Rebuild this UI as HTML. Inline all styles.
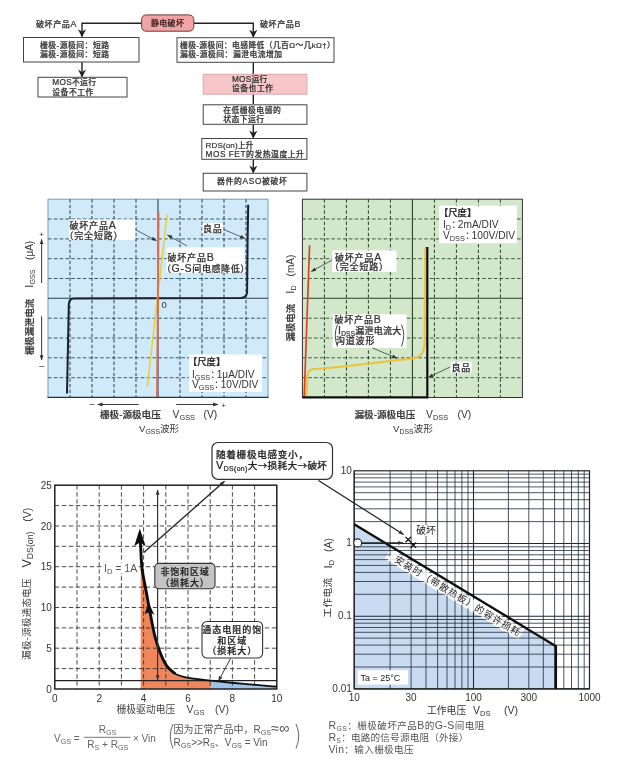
<!DOCTYPE html>
<html lang="zh"><head><meta charset="utf-8"><title>MOSFET 静电破坏</title>
<style>html,body{margin:0;padding:0;background:#fff}svg{display:block}</style></head>
<body>
<svg width="617" height="763" viewBox="0 0 617 763" font-family='"Liberation Sans","Noto Sans CJK SC",sans-serif'>
<defs>
<marker id="ah" viewBox="0 0 10 10" refX="9" refY="5" markerUnits="userSpaceOnUse" markerWidth="8.2" markerHeight="8.2" orient="auto-start-reverse"><path d="M0,0 L10,5 L0,10 L3,5 z" fill="#222"/></marker>
<marker id="as" viewBox="0 0 10 10" refX="9" refY="5" markerUnits="userSpaceOnUse" markerWidth="5.4" markerHeight="5.4" orient="auto-start-reverse"><path d="M0,1.5 L10,5 L0,8.5 z" fill="#333"/></marker>
<filter id="bl" x="0" y="0" width="100%" height="100%"><feGaussianBlur stdDeviation="0.5"/></filter>
</defs>
<rect width="617" height="763" fill="#fff"/>
<g filter="url(#bl)">
<g stroke="#222" stroke-width="1.4" fill="none">
<path d="M142,23.2 H82 V36.5" marker-end="url(#ah)"/>
<path d="M194,23.2 H253.3 V37" marker-end="url(#ah)"/>
<path d="M82,62 V76.8" marker-end="url(#ah)"/>
<path d="M253.3,62 V74"/>
<path d="M253.3,94 V104"/>
<path d="M253.3,124.5 V137.8" marker-end="url(#ah)"/>
<path d="M253.3,159.5 V172.8" marker-end="url(#ah)"/>
</g>
<rect x="141.6" y="14.9" width="52.2" height="16.3" fill="#f1a4a4" stroke="#6a3a3a" stroke-width="1" rx="4.5"/>
<text x="167.6" y="26.2" font-size="8" text-anchor="middle" fill="#3a2222" font-weight="500" stroke="#3a2222" stroke-width="0.22" letter-spacing="0.3" >静电破坏</text>
<text x="36" y="27" font-size="8.1" text-anchor="start" fill="#333" font-weight="500" stroke="#333" stroke-width="0.22" letter-spacing="0.5" >破坏产品<tspan font-size="1.1em">A</tspan></text>
<text x="260" y="27" font-size="8.1" text-anchor="start" fill="#333" font-weight="500" stroke="#333" stroke-width="0.22" letter-spacing="0.5" >破坏产品<tspan font-size="1.1em">B</tspan></text>
<rect x="23.5" y="37.5" width="115.5" height="24.5" fill="#fff" stroke="#444" stroke-width="1" rx="0"/>
<text x="40" y="48" font-size="7.8" text-anchor="start" fill="#333" font-weight="500" stroke="#333" stroke-width="0.22" letter-spacing="0.5" >栅极-源极间：短路</text>
<text x="40" y="57" font-size="7.8" text-anchor="start" fill="#333" font-weight="500" stroke="#333" stroke-width="0.22" letter-spacing="0.5" >漏极-源极间：短路</text>
<rect x="38" y="77.3" width="89.0" height="19.7" fill="#fff" stroke="#444" stroke-width="1" rx="0"/>
<text x="52.3" y="85.2" font-size="7.8" text-anchor="start" fill="#333" font-weight="500" stroke="#333" stroke-width="0.22" letter-spacing="0.3" ><tspan font-size="1.06em">MOS</tspan>不运行</text>
<text x="52.3" y="94.6" font-size="7.8" text-anchor="start" fill="#333" font-weight="500" stroke="#333" stroke-width="0.22" letter-spacing="0.5" >设备不工作</text>
<rect x="177" y="37.7" width="157.0" height="24.6" fill="#fff" stroke="#444" stroke-width="1" rx="0"/>
<text x="180" y="48" font-size="7.8" text-anchor="start" fill="#333" font-weight="500" stroke="#333" stroke-width="0.22" letter-spacing="0.38" >栅极-源极间：电感降低（几百Ω～几kΩ†）</text>
<text x="180" y="57" font-size="7.8" text-anchor="start" fill="#333" font-weight="500" stroke="#333" stroke-width="0.22" letter-spacing="0.5" >漏极-源极间：漏泄电流增加</text>
<rect x="203.2" y="74.3" width="103.7" height="19.9" fill="#f6c6c8" stroke="#d9a9ab" stroke-width="1" rx="0"/>
<text x="232" y="82" font-size="7.8" text-anchor="start" fill="#333" font-weight="500" stroke="#333" stroke-width="0.22" letter-spacing="0.2" ><tspan font-size="1.06em">MOS</tspan>运行</text>
<text x="232" y="91" font-size="7.8" text-anchor="start" fill="#333" font-weight="500" stroke="#333" stroke-width="0.22" letter-spacing="0.5" >设备也工作</text>
<rect x="203.2" y="104.8" width="103.7" height="19.5" fill="#fff" stroke="#444" stroke-width="1" rx="0"/>
<text x="223.2" y="113" font-size="7.8" text-anchor="start" fill="#333" font-weight="500" stroke="#333" stroke-width="0.22" letter-spacing="0.5" >在低栅极电感的</text>
<text x="223.2" y="122.4" font-size="7.8" text-anchor="start" fill="#333" font-weight="500" stroke="#333" stroke-width="0.22" letter-spacing="0.5" >状态下运行</text>
<rect x="201.8" y="138.5" width="105.1" height="20.8" fill="#fff" stroke="#444" stroke-width="1" rx="0"/>
<text x="205.5" y="148.1" font-size="7.8" text-anchor="start" fill="#333" font-weight="500" stroke="#333" stroke-width="0.22" letter-spacing="0.1" ><tspan font-size="1.04em">RDS(on)</tspan>上升</text>
<text x="205.5" y="157.2" font-size="7.8" text-anchor="start" fill="#333" font-weight="500" stroke="#333" stroke-width="0.22" letter-spacing="0.55" ><tspan font-size="1.06em">MOS FET</tspan>的发热温度上升</text>
<rect x="203.2" y="173.3" width="103.7" height="17.7" fill="#fff" stroke="#444" stroke-width="1" rx="0"/>
<text x="252.3" y="183.7" font-size="7.8" text-anchor="middle" fill="#333" font-weight="500" stroke="#333" stroke-width="0.22" letter-spacing="0.7" >器件的<tspan font-size="1.06em">ASO</tspan>被破坏</text>
<rect x="48" y="199.2" width="220" height="198.3" fill="#d0eafa" stroke="#6f9cc4" stroke-width="1"/>
<line x1="70.0" y1="199.2" x2="70.0" y2="397.5" stroke="#22404e" stroke-width="1" stroke-dasharray="3.4 2.2"/>
<line x1="48" y1="219.0" x2="268" y2="219.0" stroke="#22404e" stroke-width="0.85" stroke-dasharray="3.6 2.2"/>
<line x1="92.0" y1="199.2" x2="92.0" y2="397.5" stroke="#22404e" stroke-width="1" stroke-dasharray="3.4 2.2"/>
<line x1="48" y1="238.9" x2="268" y2="238.9" stroke="#22404e" stroke-width="0.85" stroke-dasharray="3.6 2.2"/>
<line x1="114.0" y1="199.2" x2="114.0" y2="397.5" stroke="#22404e" stroke-width="1" stroke-dasharray="3.4 2.2"/>
<line x1="48" y1="258.7" x2="268" y2="258.7" stroke="#22404e" stroke-width="0.85" stroke-dasharray="3.6 2.2"/>
<line x1="136.0" y1="199.2" x2="136.0" y2="397.5" stroke="#22404e" stroke-width="1" stroke-dasharray="3.4 2.2"/>
<line x1="48" y1="278.5" x2="268" y2="278.5" stroke="#22404e" stroke-width="0.85" stroke-dasharray="3.6 2.2"/>
<line x1="158.0" y1="199.2" x2="158.0" y2="397.5" stroke="#22404e" stroke-width="1.1"/>
<line x1="48" y1="298.3" x2="268" y2="298.3" stroke="#22404e" stroke-width="1.1"/>
<line x1="180.0" y1="199.2" x2="180.0" y2="397.5" stroke="#22404e" stroke-width="1" stroke-dasharray="3.4 2.2"/>
<line x1="48" y1="318.2" x2="268" y2="318.2" stroke="#22404e" stroke-width="0.85" stroke-dasharray="3.6 2.2"/>
<line x1="202.0" y1="199.2" x2="202.0" y2="397.5" stroke="#22404e" stroke-width="1" stroke-dasharray="3.4 2.2"/>
<line x1="48" y1="338.0" x2="268" y2="338.0" stroke="#22404e" stroke-width="0.85" stroke-dasharray="3.6 2.2"/>
<line x1="224.0" y1="199.2" x2="224.0" y2="397.5" stroke="#22404e" stroke-width="1" stroke-dasharray="3.4 2.2"/>
<line x1="48" y1="357.8" x2="268" y2="357.8" stroke="#22404e" stroke-width="0.85" stroke-dasharray="3.6 2.2"/>
<line x1="246.0" y1="199.2" x2="246.0" y2="397.5" stroke="#22404e" stroke-width="1" stroke-dasharray="3.4 2.2"/>
<line x1="48" y1="377.7" x2="268" y2="377.7" stroke="#22404e" stroke-width="0.85" stroke-dasharray="3.6 2.2"/>
<path d="M47.5,397.4 H268.5" stroke="#1e3550" stroke-width="1.3"/>
<rect x="69" y="219.5" width="66.3" height="20.5" fill="#fff"/>
<rect x="166.5" y="247.5" width="78" height="25.3" fill="#fff"/>
<rect x="202.5" y="223.2" width="20.5" height="10" fill="#fff"/>
<rect x="189" y="354.5" width="73" height="37.5" fill="#fff"/>
<path d="M67,393.5 L68.3,330 L68.8,304 Q69,298.6 74,298.4 L241,298 Q246.8,297.6 247.1,292 L247.6,240 L248.2,204.7" fill="none" stroke="#1a1f2e" stroke-width="2"/>
<path d="M167.1,214.5 L147.3,387" fill="none" stroke="#e6d23c" stroke-width="1.6"/>
<path d="M158.6,212.5 L157,397" fill="none" stroke="#e66a48" stroke-width="1.9"/>
<g stroke="#345" stroke-width="0.8" fill="none">
<path d="M135.3,229.6 L156.3,240.7" marker-end="url(#as)"/>
<path d="M187,246 L167.5,235" marker-end="url(#as)"/>
<path d="M224,229.6 L244.8,238.4" marker-end="url(#as)"/>
</g>
<text x="69.5" y="228.7" font-size="9" text-anchor="start" fill="#333" font-weight="500" stroke="#333" stroke-width="0.22" letter-spacing="0.8" >破坏产品<tspan font-size="1.18em">A</tspan></text>
<text x="64.5" y="239" font-size="9" text-anchor="start" fill="#333" font-weight="500" stroke="#333" stroke-width="0.22" letter-spacing="0.8" >（完全短路）</text>
<text x="167.5" y="260.8" font-size="9" text-anchor="start" fill="#333" font-weight="500" stroke="#333" stroke-width="0.22" letter-spacing="0.8" >破坏产品<tspan font-size="1.18em">B</tspan></text>
<text x="162" y="271.5" font-size="9" text-anchor="start" fill="#333" font-weight="500" stroke="#333" stroke-width="0.22" letter-spacing="0.6" >（<tspan font-size="1.18em">G-S</tspan>间电感降低）</text>
<text x="203" y="231.8" font-size="9" text-anchor="start" fill="#333" font-weight="500" stroke="#333" stroke-width="0.22" letter-spacing="0.8" >良品</text>
<text x="161.5" y="307.5" font-size="9.5" text-anchor="start" fill="#333" >0</text>
<text x="188" y="365" font-size="9.3" text-anchor="start" fill="#222" font-weight="500" stroke="#222" stroke-width="0.22" >【尺度】</text>
<text x="192" y="377.7" font-size="10.1" text-anchor="start" fill="#333" >I<tspan font-size="0.72em" dy="2">GSS</tspan><tspan dy="-2">&#8203;</tspan><tspan letter-spacing="-3.5">：</tspan>1μA/DIV</text>
<text x="192" y="388.2" font-size="10.1" text-anchor="start" fill="#333" >V<tspan font-size="0.72em" dy="2">GSS</tspan><tspan dy="-2">&#8203;</tspan><tspan letter-spacing="-3.5">：</tspan>10V/DIV</text>
<g stroke="#222" stroke-width="0.9" fill="none">
<path d="M138.7,404.5 H97.7" marker-end="url(#as)"/>
<path d="M176.3,404.5 H218" marker-end="url(#as)"/>
<path d="M41.6,316.4 V360" marker-end="url(#as)"/>
<path d="M41.6,283 V239.3" marker-end="url(#as)"/>
</g>
<text x="223.5" y="407.5" font-size="8" text-anchor="middle" fill="#333" >+</text>
<text x="92.2" y="407.4" font-size="8.5" text-anchor="middle" fill="#222" >–</text>
<text x="41.6" y="369.3" font-size="8.5" text-anchor="middle" fill="#222" >–</text>
<text x="41.6" y="236.8" font-size="8" text-anchor="middle" fill="#333" >+</text>
<text x="100" y="417.5" font-size="9.6" text-anchor="start" fill="#333" font-weight="500" stroke="#333" stroke-width="0.22" >栅极-源极电压</text>
<text x="172.5" y="417.5" font-size="10.3" text-anchor="start" fill="#333" >V<tspan font-size="0.72em" dy="2">GSS</tspan><tspan dy="-2">&#8203;</tspan></text>
<text x="203.5" y="417.5" font-size="10.3" text-anchor="start" fill="#333" >(V)</text>
<text x="139" y="431.5" font-size="9.6" text-anchor="start" fill="#333" >V<tspan font-size="0.72em" dy="2">GSS</tspan><tspan dy="-2">&#8203;</tspan>波形</text>
<text x="33.09" y="326.9" font-size="9.4" text-anchor="middle" fill="#333" font-weight="500" stroke="#333" stroke-width="0.22" transform="rotate(-90 33.1 326.9)">栅极漏泄电流</text>
<text x="33.3" y="278.5" font-size="10" text-anchor="middle" fill="#333" transform="rotate(-90 33.3 278.5)"><tspan font-size="1.1em">I</tspan><tspan font-size="0.72em" dy="2">GSS</tspan><tspan dy="-2">&#8203;</tspan></text>
<text x="33.3" y="250.4" font-size="10" text-anchor="middle" fill="#333" transform="rotate(-90 33.3 250.4)">(μA)</text>
<rect x="302.4" y="199.2" width="220" height="198.3" fill="#d3e8cb" stroke="#333" stroke-width="1"/>
<line x1="324.4" y1="199.2" x2="324.4" y2="397.5" stroke="#244224" stroke-width="1" stroke-dasharray="3.4 2.2"/>
<line x1="302.4" y1="219.0" x2="522.4" y2="219.0" stroke="#244224" stroke-width="0.85" stroke-dasharray="3.6 2.2"/>
<line x1="346.4" y1="199.2" x2="346.4" y2="397.5" stroke="#244224" stroke-width="1" stroke-dasharray="3.4 2.2"/>
<line x1="302.4" y1="238.9" x2="522.4" y2="238.9" stroke="#244224" stroke-width="0.85" stroke-dasharray="3.6 2.2"/>
<line x1="368.4" y1="199.2" x2="368.4" y2="397.5" stroke="#244224" stroke-width="1" stroke-dasharray="3.4 2.2"/>
<line x1="302.4" y1="258.7" x2="522.4" y2="258.7" stroke="#244224" stroke-width="0.85" stroke-dasharray="3.6 2.2"/>
<line x1="390.4" y1="199.2" x2="390.4" y2="397.5" stroke="#244224" stroke-width="1" stroke-dasharray="3.4 2.2"/>
<line x1="302.4" y1="278.5" x2="522.4" y2="278.5" stroke="#244224" stroke-width="0.85" stroke-dasharray="3.6 2.2"/>
<line x1="412.4" y1="199.2" x2="412.4" y2="397.5" stroke="#244224" stroke-width="1.1"/>
<line x1="302.4" y1="298.3" x2="522.4" y2="298.3" stroke="#244224" stroke-width="1.1"/>
<line x1="434.4" y1="199.2" x2="434.4" y2="397.5" stroke="#244224" stroke-width="1" stroke-dasharray="3.4 2.2"/>
<line x1="302.4" y1="318.2" x2="522.4" y2="318.2" stroke="#244224" stroke-width="0.85" stroke-dasharray="3.6 2.2"/>
<line x1="456.4" y1="199.2" x2="456.4" y2="397.5" stroke="#244224" stroke-width="1" stroke-dasharray="3.4 2.2"/>
<line x1="302.4" y1="338.0" x2="522.4" y2="338.0" stroke="#244224" stroke-width="0.85" stroke-dasharray="3.6 2.2"/>
<line x1="478.4" y1="199.2" x2="478.4" y2="397.5" stroke="#244224" stroke-width="1" stroke-dasharray="3.4 2.2"/>
<line x1="302.4" y1="357.8" x2="522.4" y2="357.8" stroke="#244224" stroke-width="0.85" stroke-dasharray="3.6 2.2"/>
<line x1="500.4" y1="199.2" x2="500.4" y2="397.5" stroke="#244224" stroke-width="1" stroke-dasharray="3.4 2.2"/>
<line x1="302.4" y1="377.7" x2="522.4" y2="377.7" stroke="#244224" stroke-width="0.85" stroke-dasharray="3.6 2.2"/>
<rect x="332" y="250.4" width="64.5" height="21.4" fill="#fff"/>
<rect x="439" y="205.6" width="78" height="37.6" fill="#fff"/>
<rect x="332.5" y="314.3" width="74" height="33.7" fill="#fff"/>
<rect x="450.6" y="361.5" width="21" height="11" fill="#fff"/>
<path d="M306.3,397 L307.5,375 Q308,369.5 314,369 C340,367.5 380,362 412,358.6 Q424,357 424.5,345 L425.3,247" fill="none" stroke="#eec13c" stroke-width="2"/>
<path d="M309.6,245.2 L304.2,397" fill="none" stroke="#d8432a" stroke-width="1.7"/>
<path d="M302.4,397.4 H427.3 V247" fill="none" stroke="#111" stroke-width="2.2"/>
<g stroke="#343" stroke-width="0.8" fill="none">
<path d="M332,260.2 L311.3,271.4" marker-end="url(#as)"/>
<path d="M372.4,348 L397,358.2" marker-end="url(#as)"/>
<path d="M450,367 L428.5,377.3" marker-end="url(#as)"/>
</g>
<text x="335" y="260.5" font-size="9" text-anchor="start" fill="#333" font-weight="500" stroke="#333" stroke-width="0.22" letter-spacing="0.8" >破坏产品<tspan font-size="1.18em">A</tspan></text>
<text x="330" y="270" font-size="9" text-anchor="start" fill="#333" font-weight="500" stroke="#333" stroke-width="0.22" letter-spacing="0.8" >（完全短路）</text>
<text x="334.5" y="323" font-size="9" text-anchor="start" fill="#333" font-weight="500" stroke="#333" stroke-width="0.22" letter-spacing="0.8" >破坏产品<tspan font-size="1.18em">B</tspan></text>
<text x="338" y="333.5" font-size="9" text-anchor="start" fill="#333" font-weight="500" stroke="#333" stroke-width="0.22" letter-spacing="0.25" ><tspan font-size="1.18em">I</tspan><tspan font-size="0.72em" dy="2">DSS</tspan><tspan dy="-2">&#8203;</tspan>漏泄电流大</text>
<text x="336" y="344" font-size="9" text-anchor="start" fill="#333" font-weight="500" stroke="#333" stroke-width="0.22" letter-spacing="0.8" >沟道波形</text>
<path d="M337.5,324.5 Q333,335 337.5,346.5" fill="none" stroke="#333" stroke-width="0.9"/>
<path d="M401.5,324.5 Q406,335 401.5,346.5" fill="none" stroke="#333" stroke-width="0.9"/>
<text x="451.5" y="370.7" font-size="9" text-anchor="start" fill="#333" font-weight="500" stroke="#333" stroke-width="0.22" letter-spacing="0.8" >良品</text>
<text x="439" y="216" font-size="9.3" text-anchor="start" fill="#222" font-weight="500" stroke="#222" stroke-width="0.22" >【尺度】</text>
<text x="443" y="227.7" font-size="10.2" text-anchor="start" fill="#333" >I<tspan font-size="0.72em" dy="2">D</tspan><tspan dy="-2">&#8203;</tspan><tspan letter-spacing="-3.5">：</tspan>2mA/DIV</text>
<text x="443" y="239" font-size="10.2" text-anchor="start" fill="#333" >V<tspan font-size="0.72em" dy="2">DSS</tspan><tspan dy="-2">&#8203;</tspan><tspan letter-spacing="-3.5">：</tspan>100V/DIV</text>
<text x="354.5" y="417.5" font-size="9.6" text-anchor="start" fill="#333" font-weight="500" stroke="#333" stroke-width="0.22" >漏极-源极电压</text>
<text x="426" y="417.5" font-size="10.3" text-anchor="start" fill="#333" >V<tspan font-size="0.72em" dy="2">DSS</tspan><tspan dy="-2">&#8203;</tspan></text>
<text x="457.5" y="417.5" font-size="10.3" text-anchor="start" fill="#333" >(V)</text>
<text x="393" y="431.5" font-size="9.6" text-anchor="start" fill="#333" >V<tspan font-size="0.72em" dy="2">DSS</tspan><tspan dy="-2">&#8203;</tspan>波形</text>
<text x="293.59000000000003" y="322.7" font-size="9.4" text-anchor="middle" fill="#333" font-weight="500" stroke="#333" stroke-width="0.22" transform="rotate(-90 293.6 322.7)">漏极电流</text>
<text x="293.8" y="289.5" font-size="10" text-anchor="middle" fill="#333" transform="rotate(-90 293.8 289.5)"><tspan font-size="1.1em">I</tspan><tspan font-size="0.72em" dy="2">D</tspan><tspan dy="-2">&#8203;</tspan></text>
<text x="293.8" y="265.6" font-size="10" text-anchor="middle" fill="#333" transform="rotate(-90 293.8 265.6)">(mA)</text>
<path d="M142.0,568.2 C142.7,572.1 144.8,584.0 146.2,591.6 C147.6,599.2 148.9,606.6 150.3,613.7 C151.7,620.8 152.8,627.9 154.4,634.3 C156.0,640.7 157.9,646.9 160.0,652.2 C162.1,657.5 164.3,662.4 166.8,666.0 C169.3,669.6 171.4,671.7 175.1,673.7 C178.8,675.7 182.9,676.8 188.9,677.9 C194.9,679.0 207.2,680.1 210.9,680.6 L210.9,689 L140.7,689 L140.7,568 Z" fill="#f0875c"/>
<path d="M210.9,680.6 C216.4,681.1 233.1,682.9 244.0,683.9 C254.9,684.9 271.1,686.2 276.5,686.7 L276.5,689 L210.9,689 Z" fill="#9cc4e8"/>
<line x1="77.0" y1="485.2" x2="77.0" y2="689" stroke="#333" stroke-width="0.9" stroke-dasharray="4.4 2.6"/>
<line x1="54.8" y1="668.6" x2="276.8" y2="668.6" stroke="#333" stroke-width="0.9" stroke-dasharray="4.4 2.6"/>
<line x1="99.2" y1="485.2" x2="99.2" y2="689" stroke="#333" stroke-width="0.9" stroke-dasharray="4.4 2.6"/>
<line x1="54.8" y1="648.2" x2="276.8" y2="648.2" stroke="#333" stroke-width="0.9" stroke-dasharray="4.4 2.6"/>
<line x1="121.4" y1="485.2" x2="121.4" y2="689" stroke="#333" stroke-width="0.9" stroke-dasharray="4.4 2.6"/>
<line x1="54.8" y1="627.9" x2="276.8" y2="627.9" stroke="#333" stroke-width="0.9" stroke-dasharray="4.4 2.6"/>
<line x1="143.6" y1="485.2" x2="143.6" y2="689" stroke="#333" stroke-width="0.9" stroke-dasharray="4.4 2.6"/>
<line x1="54.8" y1="607.5" x2="276.8" y2="607.5" stroke="#333" stroke-width="0.9" stroke-dasharray="4.4 2.6"/>
<line x1="165.8" y1="485.2" x2="165.8" y2="689" stroke="#333" stroke-width="0.9" stroke-dasharray="4.4 2.6"/>
<line x1="54.8" y1="587.1" x2="276.8" y2="587.1" stroke="#333" stroke-width="0.9" stroke-dasharray="4.4 2.6"/>
<line x1="188.0" y1="485.2" x2="188.0" y2="689" stroke="#333" stroke-width="0.9" stroke-dasharray="4.4 2.6"/>
<line x1="54.8" y1="566.7" x2="276.8" y2="566.7" stroke="#333" stroke-width="0.9" stroke-dasharray="4.4 2.6"/>
<line x1="210.2" y1="485.2" x2="210.2" y2="689" stroke="#333" stroke-width="0.9" stroke-dasharray="4.4 2.6"/>
<line x1="54.8" y1="546.3" x2="276.8" y2="546.3" stroke="#333" stroke-width="0.9" stroke-dasharray="4.4 2.6"/>
<line x1="232.4" y1="485.2" x2="232.4" y2="689" stroke="#333" stroke-width="0.9" stroke-dasharray="4.4 2.6"/>
<line x1="54.8" y1="526.0" x2="276.8" y2="526.0" stroke="#333" stroke-width="0.9" stroke-dasharray="4.4 2.6"/>
<line x1="254.6" y1="485.2" x2="254.6" y2="689" stroke="#333" stroke-width="0.9" stroke-dasharray="4.4 2.6"/>
<line x1="54.8" y1="505.6" x2="276.8" y2="505.6" stroke="#333" stroke-width="0.9" stroke-dasharray="4.4 2.6"/>
<rect x="54.8" y="485.2" width="222.0" height="203.8" fill="none" stroke="#222" stroke-width="1.5"/>
<line x1="54.8" y1="680.7" x2="276.8" y2="680.7" stroke="#222" stroke-width="1.2"/>
<path d="M140.1,541.0 C140.2,542.1 140.4,543.0 140.7,547.5 C141.0,552.0 141.1,560.9 142.0,568.2 C142.9,575.6 144.8,584.0 146.2,591.6 C147.6,599.2 148.9,606.6 150.3,613.7 C151.7,620.8 152.8,627.9 154.4,634.3 C156.0,640.7 157.9,646.9 160.0,652.2 C162.1,657.5 164.3,662.4 166.8,666.0 C169.3,669.6 173.7,672.4 175.1,673.7" fill="none" stroke="#111" stroke-width="2.9"/>
<path d="M166.8,666.0 C168.2,667.3 171.4,671.7 175.1,673.7 C178.8,675.7 182.9,676.8 188.9,677.9 C194.9,679.0 201.7,679.6 210.9,680.6 C220.1,681.6 233.1,682.9 244.0,683.9 C254.9,684.9 271.1,686.2 276.5,686.7" fill="none" stroke="#111" stroke-width="1.8"/>
<path d="M139.8,528.6 L134.3,546 L139.8,542.5 L145.6,546 Z" fill="#111"/>
<path d="M148.6,602.5 L144.6,614 L149.6,612 L154.4,615 Z" fill="#111"/>
<path d="M157.6,490 V680" stroke="#333" stroke-width="1.2" marker-end="url(#as)" marker-start="url(#as)"/>
<path d="M143.8,552.5 L224.5,481.3" stroke="#222" stroke-width="1.3" marker-end="url(#as)"/>
<rect x="154.8" y="563.4" width="60.2" height="25.4" fill="#c4c4c4" stroke="#333" stroke-width="1.1" rx="4"/>
<text x="185" y="574.6" font-size="9" text-anchor="middle" fill="#222" font-weight="500" stroke="#222" stroke-width="0.22" letter-spacing="0.8" >非饱和区域</text>
<text x="185" y="585.5" font-size="9" text-anchor="middle" fill="#222" font-weight="500" stroke="#222" stroke-width="0.22" letter-spacing="0.8" >（损耗大）</text>
<rect x="202" y="621.5" width="60.6" height="36.5" fill="#fff" stroke="#333" stroke-width="1.1" rx="5"/>
<text x="232.3" y="632.5" font-size="9" text-anchor="middle" fill="#222" font-weight="500" stroke="#222" stroke-width="0.22" letter-spacing="1" >通态电阻的饱</text>
<text x="232.3" y="643.5" font-size="9" text-anchor="middle" fill="#222" font-weight="500" stroke="#222" stroke-width="0.22" letter-spacing="1" >和区域</text>
<text x="232.3" y="654" font-size="9" text-anchor="middle" fill="#222" font-weight="500" stroke="#222" stroke-width="0.22" letter-spacing="1" >（损耗大）</text>
<path d="M230.5,658.5 L218.5,681" stroke="#222" stroke-width="0.9" marker-end="url(#as)"/>
<rect x="104" y="562.5" width="33" height="10.5" fill="#fff"/>
<text x="104" y="571.8" font-size="10.5" text-anchor="start" fill="#555" >I<tspan font-size="0.72em" dy="2">D</tspan><tspan dy="-2">&#8203;</tspan> = 1A</text>
<text x="51.8" y="692.6" font-size="10" text-anchor="end" fill="#333" >0</text>
<text x="51.8" y="651.84" font-size="10" text-anchor="end" fill="#333" >5</text>
<text x="51.8" y="611.08" font-size="10" text-anchor="end" fill="#333" >10</text>
<text x="51.8" y="570.32" font-size="10" text-anchor="end" fill="#333" >15</text>
<text x="51.8" y="529.5600000000001" font-size="10" text-anchor="end" fill="#333" >20</text>
<text x="51.8" y="488.8" font-size="10" text-anchor="end" fill="#333" >25</text>
<text x="54.8" y="702.3" font-size="10" text-anchor="middle" fill="#333" >0</text>
<text x="99.19999999999999" y="702.3" font-size="10" text-anchor="middle" fill="#333" >2</text>
<text x="143.6" y="702.3" font-size="10" text-anchor="middle" fill="#333" >4</text>
<text x="188.0" y="702.3" font-size="10" text-anchor="middle" fill="#333" >6</text>
<text x="232.39999999999998" y="702.3" font-size="10" text-anchor="middle" fill="#333" >8</text>
<text x="276.8" y="702.3" font-size="10" text-anchor="middle" fill="#333" >10</text>
<text x="116.5" y="713.2" font-size="9.8" text-anchor="start" fill="#444" >栅极驱动电压</text>
<text x="186.6" y="713.2" font-size="10.5" text-anchor="start" fill="#444" >V<tspan font-size="0.72em" dy="2">GS</tspan><tspan dy="-2">&#8203;</tspan></text>
<text x="215" y="713.2" font-size="10.5" text-anchor="start" fill="#444" >(V)</text>
<text x="30.29" y="619" font-size="9.4" text-anchor="middle" fill="#333" letter-spacing="0.35" transform="rotate(-90 30.3 619)">漏极-源极通态电压</text>
<text x="30.919999999999998" y="549.5" font-size="11.2" text-anchor="middle" fill="#333" transform="rotate(-90 30.9 549.5)"><tspan font-size="1.1em">V</tspan><tspan font-size="0.78em" dy="2">DS(on)</tspan><tspan dy="-2">&#8203;</tspan></text>
<text x="30.675" y="514.7" font-size="10.5" text-anchor="middle" fill="#333" transform="rotate(-90 30.7 514.7)">(V)</text>
<text x="54" y="742" font-size="10" text-anchor="start" fill="#666" >V<tspan font-size="0.72em" dy="2">GS</tspan><tspan dy="-2">&#8203;</tspan> =</text>
<text x="107.5" y="733.3" font-size="10" text-anchor="middle" fill="#666" >R<tspan font-size="0.72em" dy="2">GS</tspan><tspan dy="-2">&#8203;</tspan></text>
<line x1="83.8" y1="737.3" x2="130.6" y2="737.3" stroke="#666" stroke-width="0.9"/>
<text x="107.8" y="747.5" font-size="10" text-anchor="middle" fill="#666" >R<tspan font-size="0.72em" dy="2">S</tspan><tspan dy="-2">&#8203;</tspan> + R<tspan font-size="0.72em" dy="2">GS</tspan><tspan dy="-2">&#8203;</tspan></text>
<text x="133" y="742" font-size="10" text-anchor="start" fill="#666" >× Vin</text>
<text x="173.5" y="733.3" font-size="10" text-anchor="start" fill="#555" >因为正常产品中，R<tspan font-size="0.72em" dy="2">GS</tspan><tspan dy="-2">&#8203;</tspan><tspan font-size="1.45em">≈∞</tspan></text>
<text x="173.5" y="746.3" font-size="10" text-anchor="start" fill="#555" >R<tspan font-size="0.72em" dy="2">GS</tspan><tspan dy="-2">&#8203;</tspan>&gt;&gt;R<tspan font-size="0.72em" dy="2">S</tspan><tspan dy="-2">&#8203;</tspan>、V<tspan font-size="0.72em" dy="2">GS</tspan><tspan dy="-2">&#8203;</tspan> = Vin</text>
<path d="M173,724 Q167.5,736 173,748.5" fill="none" stroke="#555" stroke-width="0.9"/>
<path d="M296,724 Q301.5,736 296,748.5" fill="none" stroke="#555" stroke-width="0.9"/>
<rect x="212" y="442.5" width="120.5" height="36.8" fill="#fff" stroke="#333" stroke-width="1.2" rx="6"/>
<text x="216" y="458" font-size="9.6" text-anchor="start" fill="#222" font-weight="500" stroke="#222" stroke-width="0.22" letter-spacing="0.7" >随着栅极电感变小，</text>
<text x="216" y="469" font-size="9.6" text-anchor="start" fill="#222" font-weight="500" stroke="#222" stroke-width="0.22" letter-spacing="0.35" ><tspan font-size="1.15em">V</tspan><tspan font-size="0.72em" dy="2">DS(on)</tspan><tspan dy="-2">&#8203;</tspan>大<tspan font-family="Noto Sans CJK SC">→</tspan>损耗大<tspan font-family="Noto Sans CJK SC">→</tspan>破坏</text>
<path d="M354.2,524.2 L555.9,646.2 L555.9,688.9 L354.2,688.9 Z" fill="#c8dbf1"/>
<g transform="translate(354.2,524.2) rotate(31.17)">
<rect x="44" y="0" width="156" height="14" fill="#fff"/>
</g>
<line x1="354.2" y1="470.8" x2="354.2" y2="688.9" stroke="#1e2a3a" stroke-width="1.1"/>
<line x1="390.1" y1="470.8" x2="390.1" y2="688.9" stroke="#1e2a3a" stroke-width="0.8"/>
<line x1="411.1" y1="470.8" x2="411.1" y2="688.9" stroke="#1e2a3a" stroke-width="0.8"/>
<line x1="426.0" y1="470.8" x2="426.0" y2="688.9" stroke="#1e2a3a" stroke-width="0.8"/>
<line x1="437.6" y1="470.8" x2="437.6" y2="688.9" stroke="#1e2a3a" stroke-width="0.8"/>
<line x1="447.0" y1="470.8" x2="447.0" y2="688.9" stroke="#1e2a3a" stroke-width="0.8"/>
<line x1="455.0" y1="470.8" x2="455.0" y2="688.9" stroke="#1e2a3a" stroke-width="0.8"/>
<line x1="461.9" y1="470.8" x2="461.9" y2="688.9" stroke="#1e2a3a" stroke-width="0.8"/>
<line x1="468.0" y1="470.8" x2="468.0" y2="688.9" stroke="#1e2a3a" stroke-width="0.8"/>
<line x1="473.5" y1="470.8" x2="473.5" y2="688.9" stroke="#1e2a3a" stroke-width="1.1"/>
<line x1="508.4" y1="470.8" x2="508.4" y2="688.9" stroke="#1e2a3a" stroke-width="0.8"/>
<line x1="528.8" y1="470.8" x2="528.8" y2="688.9" stroke="#1e2a3a" stroke-width="0.8"/>
<line x1="543.3" y1="470.8" x2="543.3" y2="688.9" stroke="#1e2a3a" stroke-width="0.8"/>
<line x1="554.6" y1="470.8" x2="554.6" y2="688.9" stroke="#1e2a3a" stroke-width="0.8"/>
<line x1="563.8" y1="470.8" x2="563.8" y2="688.9" stroke="#1e2a3a" stroke-width="0.8"/>
<line x1="571.5" y1="470.8" x2="571.5" y2="688.9" stroke="#1e2a3a" stroke-width="0.8"/>
<line x1="578.3" y1="470.8" x2="578.3" y2="688.9" stroke="#1e2a3a" stroke-width="0.8"/>
<line x1="584.2" y1="470.8" x2="584.2" y2="688.9" stroke="#1e2a3a" stroke-width="0.8"/>
<line x1="354.2" y1="688.9" x2="589.5" y2="688.9" stroke="#1e2a3a" stroke-width="1.1"/>
<line x1="354.2" y1="667.0" x2="589.5" y2="667.0" stroke="#1e2a3a" stroke-width="0.8"/>
<line x1="354.2" y1="654.2" x2="589.5" y2="654.2" stroke="#1e2a3a" stroke-width="0.8"/>
<line x1="354.2" y1="645.1" x2="589.5" y2="645.1" stroke="#1e2a3a" stroke-width="0.8"/>
<line x1="354.2" y1="638.1" x2="589.5" y2="638.1" stroke="#1e2a3a" stroke-width="0.8"/>
<line x1="354.2" y1="632.3" x2="589.5" y2="632.3" stroke="#1e2a3a" stroke-width="0.8"/>
<line x1="354.2" y1="627.5" x2="589.5" y2="627.5" stroke="#1e2a3a" stroke-width="0.8"/>
<line x1="354.2" y1="623.2" x2="589.5" y2="623.2" stroke="#1e2a3a" stroke-width="0.8"/>
<line x1="354.2" y1="619.5" x2="589.5" y2="619.5" stroke="#1e2a3a" stroke-width="0.8"/>
<line x1="354.2" y1="616.2" x2="589.5" y2="616.2" stroke="#1e2a3a" stroke-width="1.1"/>
<line x1="354.2" y1="594.3" x2="589.5" y2="594.3" stroke="#1e2a3a" stroke-width="0.8"/>
<line x1="354.2" y1="581.5" x2="589.5" y2="581.5" stroke="#1e2a3a" stroke-width="0.8"/>
<line x1="354.2" y1="572.4" x2="589.5" y2="572.4" stroke="#1e2a3a" stroke-width="0.8"/>
<line x1="354.2" y1="565.4" x2="589.5" y2="565.4" stroke="#1e2a3a" stroke-width="0.8"/>
<line x1="354.2" y1="559.6" x2="589.5" y2="559.6" stroke="#1e2a3a" stroke-width="0.8"/>
<line x1="354.2" y1="554.8" x2="589.5" y2="554.8" stroke="#1e2a3a" stroke-width="0.8"/>
<line x1="354.2" y1="550.5" x2="589.5" y2="550.5" stroke="#1e2a3a" stroke-width="0.8"/>
<line x1="354.2" y1="546.8" x2="589.5" y2="546.8" stroke="#1e2a3a" stroke-width="0.8"/>
<line x1="354.2" y1="543.5" x2="589.5" y2="543.5" stroke="#1e2a3a" stroke-width="1.1"/>
<line x1="354.2" y1="521.6" x2="589.5" y2="521.6" stroke="#1e2a3a" stroke-width="0.8"/>
<line x1="354.2" y1="508.8" x2="589.5" y2="508.8" stroke="#1e2a3a" stroke-width="0.8"/>
<line x1="354.2" y1="499.7" x2="589.5" y2="499.7" stroke="#1e2a3a" stroke-width="0.8"/>
<line x1="354.2" y1="492.7" x2="589.5" y2="492.7" stroke="#1e2a3a" stroke-width="0.8"/>
<line x1="354.2" y1="486.9" x2="589.5" y2="486.9" stroke="#1e2a3a" stroke-width="0.8"/>
<line x1="354.2" y1="482.1" x2="589.5" y2="482.1" stroke="#1e2a3a" stroke-width="0.8"/>
<line x1="354.2" y1="477.8" x2="589.5" y2="477.8" stroke="#1e2a3a" stroke-width="0.8"/>
<line x1="354.2" y1="474.1" x2="589.5" y2="474.1" stroke="#1e2a3a" stroke-width="0.8"/>
<rect x="354.2" y="470.8" width="235.3" height="218.1" fill="none" stroke="#222" stroke-width="1.2"/>
<path d="M354.2,524.2 L555.9,646.2 L555.9,688.9" fill="none" stroke="#111" stroke-width="2.3" stroke-linejoin="miter"/>
<g transform="translate(354.2,524.2) rotate(31.17)">
<rect x="47" y="2.5" width="150" height="10.5" fill="#fff" fill-opacity="0.8"/>
<text x="53" y="11.3" font-size="9.5" letter-spacing="0.9" fill="#222">安装时（带散热板）的容许损耗</text>
</g>
<path d="M318.5,480.5 L403.5,534.5" stroke="#222" stroke-width="1.3" marker-end="url(#as)"/>
<path d="M362,542.9 H403" stroke="#222" stroke-width="1.3" marker-end="url(#as)"/>
<circle cx="357.7" cy="542.9" r="4" fill="#fff" stroke="#222" stroke-width="1.1"/>
<path d="M405.5,536.9 L410.9,542.3000000000001 M405.5,542.3000000000001 L410.9,536.9" stroke="#111" stroke-width="1.3"/>
<path d="M410.7,542.5 L416.09999999999997,547.9000000000001 M410.7,547.9000000000001 L416.09999999999997,542.5" stroke="#111" stroke-width="1.3"/>
<rect x="415.5" y="525" width="21" height="11" fill="#fff"/>
<text x="416.3" y="534" font-size="9.8" text-anchor="start" fill="#222" >破坏</text>
<rect x="357.6" y="670.2" width="50.4" height="14.4" fill="#fff" stroke="none" stroke-width="1" rx="0"/>
<text x="360.5" y="681" font-size="9" text-anchor="start" fill="#222" >Ta = 25°C</text>
<text x="351.8" y="474.3" font-size="10" text-anchor="end" fill="#333" >10</text>
<text x="351.8" y="546.2" font-size="10" text-anchor="end" fill="#333" >1</text>
<text x="351.8" y="619.3" font-size="10" text-anchor="end" fill="#333" >0.1</text>
<text x="351.8" y="692.3" font-size="10" text-anchor="end" fill="#333" >0.01</text>
<text x="354.2" y="701.3" font-size="10" text-anchor="middle" fill="#333" >10</text>
<text x="411.1205656880557" y="701.3" font-size="10" text-anchor="middle" fill="#333" >30</text>
<text x="473.5" y="701.3" font-size="10" text-anchor="middle" fill="#333" >100</text>
<text x="528.8460655474809" y="701.3" font-size="10" text-anchor="middle" fill="#333" >300</text>
<text x="589.5" y="701.3" font-size="10" text-anchor="middle" fill="#333" >1000</text>
<text x="427" y="714" font-size="9.8" text-anchor="start" fill="#333" >工作电压</text>
<text x="473" y="714" font-size="10.5" text-anchor="start" fill="#333" >V<tspan font-size="0.72em" dy="2">DS</tspan><tspan dy="-2">&#8203;</tspan></text>
<text x="504" y="714" font-size="10.5" text-anchor="start" fill="#333" >(V)</text>
<text x="331.16" y="597.4" font-size="9.6" text-anchor="middle" fill="#333" letter-spacing="0.4" transform="rotate(-90 331.2 597.4)">工作电流</text>
<text x="331.475" y="564" font-size="10.5" text-anchor="middle" fill="#333" transform="rotate(-90 331.5 564)"><tspan font-size="1.1em">I</tspan><tspan font-size="0.72em" dy="2">D</tspan><tspan dy="-2">&#8203;</tspan></text>
<text x="331.475" y="545" font-size="10.5" text-anchor="middle" fill="#333" transform="rotate(-90 331.5 545)">(A)</text>
<text x="328.5" y="728.5" font-size="9.6" text-anchor="start" fill="#555" letter-spacing="0.4" ><tspan font-size="1.1em">R</tspan><tspan font-size="0.72em" dy="2">GS</tspan><tspan dy="-2">&#8203;</tspan>：栅极破坏产品<tspan font-size="1.1em">B</tspan>的<tspan font-size="1.1em">G-S</tspan>间电阻</text>
<text x="328.5" y="740.5" font-size="9.6" text-anchor="start" fill="#555" letter-spacing="0.2" ><tspan font-size="1.1em">R</tspan><tspan font-size="0.72em" dy="2">S</tspan><tspan dy="-2">&#8203;</tspan>：电路的信号源电阻（外接）</text>
<text x="328.5" y="752.5" font-size="9.6" text-anchor="start" fill="#555" letter-spacing="0.35" ><tspan font-size="1.08em">Vin</tspan>：输入栅极电压</text>
</g>
</svg>
</body></html>
